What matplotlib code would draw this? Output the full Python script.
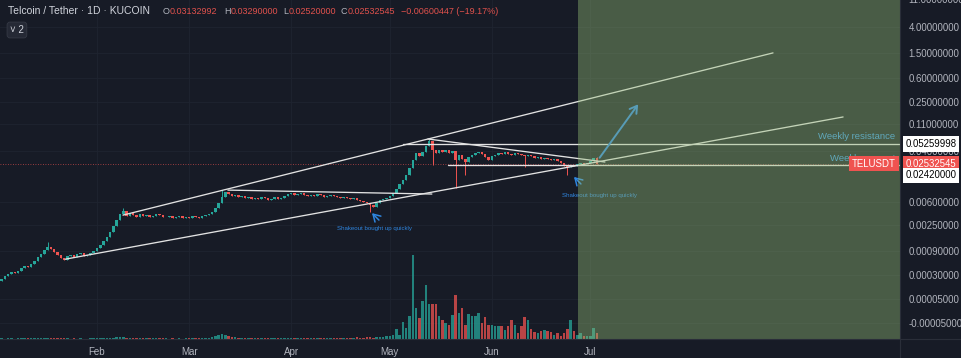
import numpy as np
import pandas as pd
import matplotlib
matplotlib.use("Agg")
import matplotlib.pyplot as plt
from matplotlib.lines import Line2D
from matplotlib.transforms import blended_transform_factory

plt.rcParams['font.family'] = ['Liberation Sans', 'DejaVu Sans']

BG = '#171b26'
UP = '#26a69a'
DOWN = '#ef5350'
TXT = '#b2b5be'
BLUE = '#2f86e0'

# daily closes, TEL/USDT (KUCOIN), 2 Jan - 3 Jul 2021
closes_jan = [0.00022, 0.00024, 0.00028, 0.00032, 0.00035, 0.00033, 0.00037, 0.00042, 0.00046, 0.00044,
              0.00051, 0.00058, 0.00069, 0.00079, 0.00093, 0.00106, 0.00097, 0.00086, 0.00076, 0.00066,
              0.00061, 0.00072, 0.00076, 0.00069, 0.00079, 0.00082, 0.00072, 0.00076, 0.00082, 0.00090]
closes_feb = [0.00101, 0.00115, 0.00135, 0.0016, 0.0019, 0.0024, 0.0031, 0.0039, 0.0043, 0.0036,
              0.0040, 0.0037, 0.0034, 0.0039, 0.0036, 0.0037, 0.0034, 0.0036, 0.0039, 0.0037,
              0.0034, 0.0035, 0.0036, 0.0033, 0.0034, 0.0036, 0.0033, 0.0034]
closes_mar = [0.0033, 0.0036, 0.0034, 0.0033, 0.0036, 0.0037, 0.0039, 0.0042, 0.0049, 0.0059,
              0.0073, 0.0088, 0.0082, 0.0076, 0.0079, 0.0073, 0.0076, 0.0071, 0.0073, 0.0068,
              0.0071, 0.0068, 0.0073, 0.0071, 0.0066, 0.0068, 0.0073, 0.0068, 0.0071, 0.0076,
              0.0082]
closes_apr = [0.0085, 0.0079, 0.0082, 0.0085, 0.0079, 0.0076, 0.0079, 0.0076, 0.0082, 0.0079,
              0.0073, 0.0076, 0.0079, 0.0077, 0.0073, 0.0071, 0.0073, 0.0071, 0.0068, 0.0071,
              0.0066, 0.0063, 0.0061, 0.0059, 0.0054, 0.0050, 0.0059, 0.0066, 0.0068, 0.0071]
closes_may = [0.0076, 0.0085, 0.0099, 0.0119, 0.0138, 0.0167, 0.0216, 0.0291, 0.0377, 0.0337,
              0.0391, 0.0489, 0.0588, 0.0421, 0.0377, 0.0421, 0.0391, 0.0421, 0.0377, 0.0406,
              0.0291, 0.0350, 0.0302, 0.0270, 0.0325, 0.0350, 0.0377, 0.0391, 0.0363, 0.0325,
              0.0291]
closes_jun = [0.0337, 0.0350, 0.0377, 0.0363, 0.0391, 0.0363, 0.0350, 0.0377, 0.0365, 0.0350,
              0.0337, 0.0350, 0.0337, 0.0313, 0.0325, 0.0302, 0.0313, 0.0302, 0.0291, 0.0302,
              0.0280, 0.0260, 0.0233, 0.0224, 0.0242, 0.0233, 0.0251, 0.0260, 0.0251, 0.0260]
closes_jul = [0.0280, 0.03132992, 0.02532545]
first_open = 0.00021

# wick extremes that stand out (candle index, price)
spike_idx = [15, 38, 68, 113, 131, 132, 139, 142, 160, 173, 182, 182]
spike_price = [0.00130, 0.0049, 0.0095, 0.0042, 0.0633, 0.0242, 0.0103, 0.0167, 0.0224, 0.0167, 0.0329, 0.0252]

vol_jan = [0.5, 0.6, 0.5, 0.7, 0.6, 0.5, 0.6, 0.7, 0.8, 0.6, 0.7, 0.8, 0.9, 1.0, 1.1, 1.2, 0.9, 0.8, 0.7, 0.6,
           0.7, 0.6, 0.5, 0.6, 0.5, 0.6, 0.5, 0.5, 0.6, 0.7]
vol_feb = [0.8, 0.9, 1.0, 1.2, 1.3, 1.5, 1.8, 1.6, 2.0, 1.5, 1.2, 1.0, 1.3, 1.0, 0.8, 1.0, 1.2, 0.8, 0.6, 0.7,
           0.6, 0.6, 0.5, 0.6, 0.5, 0.6, 0.5, 0.6]
vol_mar = [0.6, 0.7, 0.6, 0.8, 0.9, 1.0, 1.5, 2.5, 3.5, 4.5, 5.0, 4.0, 3.0, 2.5, 2.0, 1.5, 1.2, 1.0, 1.2, 0.9,
           1.0, 0.8, 0.9, 0.8, 1.0, 0.8, 0.9, 1.0, 0.8, 0.9, 1.0]
vol_apr = [1.2, 1.0, 1.1, 1.3, 1.0, 0.9, 1.0, 1.2, 1.0, 0.9, 1.0, 1.1, 1.0, 0.9, 1.2, 1.5, 1.3, 1.0, 1.2, 1.4,
           1.6, 1.3, 1.5, 1.8, 2.0, 1.5, 2.2, 2.0, 2.5, 3.0]
vol_may = [3, 4, 10, 4, 17, 11, 23, 84, 31, 21, 38, 54, 35, 35, 35, 23, 19, 16, 14, 24,
           44, 26, 31, 14, 25, 23, 23, 26, 16, 22, 14]
vol_jun = [14, 13, 13, 13, 9, 13, 19, 14, 6, 13, 22, 19, 10, 7, 6, 8, 9, 8, 7, 4,
           6, 3, 6, 10, 19, 8, 4, 6, 3, 3]
vol_jul = [3, 11, 6]

price_ticks = [11, 4, 1.5, 0.6, 0.25, 0.11, 0.04, 0.006, 0.0025, 0.0009, 0.0003, 0.00005, -0.00005]
month_ticks = ['2021-02-01', '2021-03-01', '2021-04-01', '2021-05-01', '2021-06-01', '2021-07-01']
month_labels = ['Feb', 'Mar', 'Apr', 'May', 'Jun', 'Jul']

resistance = 0.05259998
support = 0.02420000
last_close = 0.02532545

closes = np.array(closes_jan + closes_feb + closes_mar + closes_apr + closes_may + closes_jun + closes_jul)
volume = np.array(vol_jan + vol_feb + vol_mar + vol_apr + vol_may + vol_jun + vol_jul)
opens = np.concatenate([[first_open], closes[:-1]])
highs = np.maximum(opens, closes)
lows = np.minimum(opens, closes)
for i, p in zip(spike_idx, spike_price):
    highs[i] = max(highs[i], p)
    lows[i] = min(lows[i], p)
dates = pd.date_range('2021-01-02', periods=len(closes), freq='D')
up = closes >= opens
cols = np.where(up, UP, DOWN)

base = pd.Timestamp('2021-01-01')
def day(d):
    return base + pd.to_timedelta(d, unit='D')

# drawings: (day offset from 1 Jan, price) pairs
trendlines = [
    ((38.9, 0.0037), (236.5, 1.52)),     # upper channel
    ((21.3, 0.00063), (257.8, 0.1428)),  # lower channel
    ((70.8, 0.0095), (132.8, 0.0082)),   # March range top
    ((131.6, 0.0633), (185.4, 0.0270)),  # descending from the top
    ((124.0, resistance), (276, resistance)),
    ((137.7, support), (276, support)),
]

C = 1.2e-4
def fwd(p):
    return np.log10(np.clip(np.asarray(p, dtype=float) + C, 1e-9, None))
def inv(v):
    return 10 ** np.asarray(v, dtype=float) - C

fig = plt.figure(figsize=(9.62, 3.58), dpi=100)
fig.patch.set_facecolor(BG)
ax = fig.add_axes([0, 19 / 358, 900 / 962, 341 / 358])
ax.set_facecolor(BG)
ax.set_yscale('function', functions=(fwd, inv))
ax.set_ylim(-8.05e-5, 11.53)
ax.set_xlim(day(1.52), day(275.1))

ax2 = ax.twinx()
ax2.set_ylim(0, 341)
ax2.yaxis.set_visible(False)
ax.yaxis.tick_right()
for a in (ax, ax2):
    for s in a.spines.values():
        s.set_visible(False)

# grid
for t in month_ticks:
    ax.axvline(pd.Timestamp(t), color='#1f2430', lw=0.6, zorder=0)
for v in price_ticks:
    ax.axhline(v, color='#1f2430', lw=0.6, zorder=0)

# candles
ax.vlines(dates, lows, highs, colors=cols, lw=0.7, zorder=2)
ax.bar(dates, np.abs(closes - opens), bottom=np.minimum(opens, closes), width=0.75,
       color=cols, lw=0, zorder=3)

# volume
ax2.bar(dates, volume, width=0.75, color=cols, alpha=0.75, lw=0, zorder=1)

# last price line
ax.axhline(last_close, color=DOWN, lw=0.6, ls=(0, (1, 2)), alpha=0.8, zorder=1)

for (d0, p0), (d1, p1) in trendlines:
    ax.plot([day(d0), day(d1)], [p0, p1], color='#e2e2e2', lw=0.95, zorder=4, solid_capstyle='round')

# arrows
arrows = [((183.3, 0.0291), (196.0, 0.248), 1.4),
          ((117.3, 0.00284), (114.0, 0.0043), 1.1),
          ((178.7, 0.0111), (175.4, 0.0167), 1.1)]
for (d0, p0), (d1, p1), lw in arrows:
    ax.annotate('', xy=(day(d1), p1), xytext=(day(d0), p0),
                arrowprops=dict(arrowstyle='->,head_length=0.5,head_width=0.3', color=BLUE, lw=lw),
                zorder=5)

ax.text(day(115.5), 0.00217, 'Shakeout bought up quickly', color=BLUE, fontsize=4.4,
        ha='center', va='center', zorder=5)
ax.text(day(183.9), 0.0079, 'Shakeout bought up quickly', color=BLUE, fontsize=4.4,
        ha='center', va='center', zorder=5)
ax.text(day(273.6), 0.0682, 'Weekly resistance', color='#3d9be9', fontsize=6.8,
        ha='right', va='center', zorder=5)
ax.text(day(273.6), 0.0313, 'Weekly support', color='#3d9be9', fontsize=6.8,
        ha='right', va='center', zorder=5)

# shaded projection zone
ax2.axvspan(day(177.2), day(280), color='#96be78', alpha=0.4, lw=0, zorder=6)

# axes ticks
ax.set_yticks(price_ticks, labels=[f'{v:.8f}' for v in price_ticks])
ax.yaxis.set_minor_locator(matplotlib.ticker.NullLocator())
ax.tick_params(axis='y', length=0, pad=6, labelsize=6.9, labelcolor=TXT)
ax.set_xticks([pd.Timestamp(t) for t in month_ticks], labels=month_labels)
ax.xaxis.set_minor_locator(matplotlib.ticker.NullLocator())
ax.tick_params(axis='x', length=0, pad=6, labelsize=7, labelcolor=TXT)

# price badges
tr = blended_transform_factory(ax2.transAxes, ax.transData)
badge = dict(boxstyle='square,pad=0.28', lw=0)
ax2.annotate(f'{resistance:.8f}', xy=(1.0, resistance), xycoords=tr, xytext=(4, 0),
             textcoords='offset points', va='center', ha='left', fontsize=6.9, color='black',
             bbox=dict(badge, fc='white'), annotation_clip=False, zorder=10)
ax2.annotate(f'{last_close:.8f}', xy=(1.0, last_close), xycoords=tr, xytext=(4, 0),
             textcoords='offset points', va='center', ha='left', fontsize=6.9, color='white',
             bbox=dict(badge, fc=DOWN), annotation_clip=False, zorder=10)
ax2.annotate(f'{support:.8f}', xy=(1.0, support), xycoords=tr, xytext=(4, -7.5),
             textcoords='offset points', va='center', ha='left', fontsize=6.9, color='black',
             bbox=dict(badge, fc='white'), annotation_clip=False, zorder=10)
ax2.annotate('TELUSDT', xy=(1.0, last_close), xycoords=tr, xytext=(-3, 0),
             textcoords='offset points', va='center', ha='right', fontsize=6.9, color='white',
             bbox=dict(badge, fc=DOWN), annotation_clip=False, zorder=10)

# frame lines
fig.add_artist(Line2D([0, 1], [19 / 358, 19 / 358], color='#2a2e39', lw=0.8))
fig.add_artist(Line2D([900 / 962, 900 / 962], [0, 1], color='#2a2e39', lw=0.8))

# header
def px(x, y):
    return x / 962, 1 - y / 358

fig.text(*px(8, 11), 'Telcoin / Tether · 1D · KUCOIN', color='#d1d4dc', fontsize=7.5, va='center')
red_hdr = '#e0514c'
hdr = [(163, 'O', TXT), (170, '0.03132992', red_hdr), (224, 'H', TXT), (231, '0.03290000', red_hdr),
       (283, 'L', TXT), (289, '0.02520000', red_hdr), (341, 'C', TXT), (348, '0.02532545', red_hdr),
       (401, '\u22120.00600447 (\u221219.17%)', red_hdr)]
for x, s, c in hdr:
    fig.text(*px(x, 11), s, color=c, fontsize=6.5, va='center')
fig.text(*px(10, 30), '\u02c5 2', color='#d1d4dc', fontsize=7, va='center',
         bbox=dict(boxstyle='round,pad=0.3', fc='#252935', ec='#363a45', lw=0.6))

fig.savefig('out.png', dpi=100, facecolor=BG)
